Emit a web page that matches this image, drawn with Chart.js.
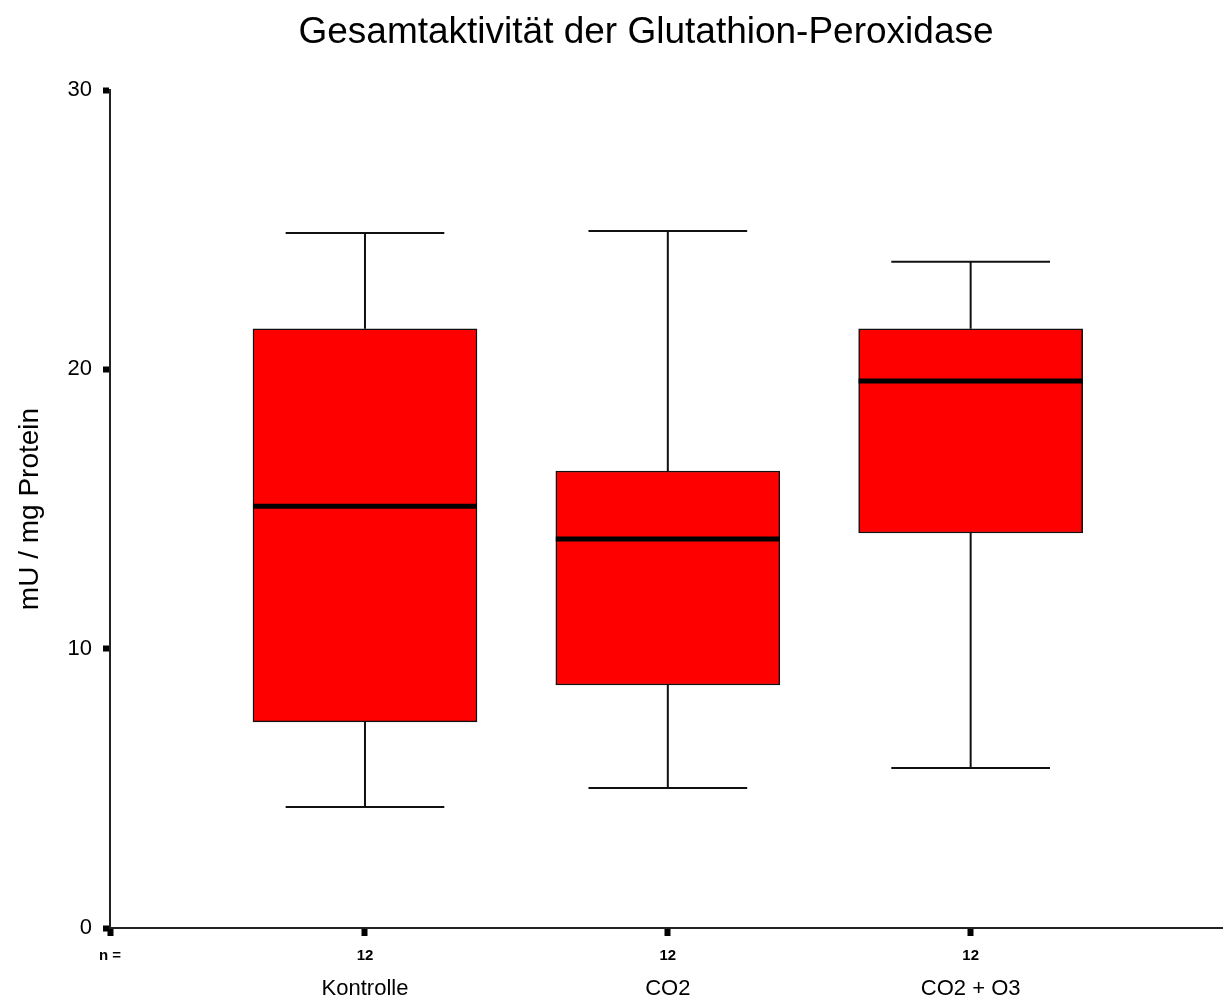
<!DOCTYPE html>
<html lang="de">
<head>
    <meta charset="UTF-8">
    <title>Gesamtaktivität der Glutathion-Peroxidase</title>
    <script src="https://cdn.jsdelivr.net/npm/chart.js"></script>
    <style>
        * { margin: 0; padding: 0; box-sizing: border-box; }
        body { background: #fff; width: 1223px; height: 1001px; overflow: hidden; }
        #wrap { width: 1223px; height: 1001px; }
    </style>
</head>
<body>
    <div id="wrap"><canvas id="boxChart"></canvas></div>

    <script>
        // Data
        const groups = ['Kontrolle', 'CO2', 'CO2 + O3'];
        const counts = [12, 12, 12];
        const positions = [1, 2, 3];
        const whiskerLow = [4.33, 5.01, 5.73];
        const q1 = [7.38, 8.70, 14.14];
        const medians = [15.10, 13.93, 19.58];
        const q3 = [21.45, 16.36, 21.45];
        const whiskerHigh = [24.88, 24.95, 23.85];
        const yTicks = [0, 10, 20, 30];

        const titleText = 'Gesamtaktivität der Glutathion-Peroxidase';
        const xMin = 0.158, xMax = 3.83;
        const capHalf = 0.262;
        const FONT = "'Liberation Sans', Arial, sans-serif";

        // whiskers, caps and median lines drawn through the chart scales
        const boxPlugin = {
            id: 'boxWhiskers',
            afterDatasetsDraw(chart) {
                const ctx = chart.ctx;
                const xs = chart.scales.x, ys = chart.scales.y;
                const meta = chart.getDatasetMeta(0);
                ctx.save();
                positions.forEach((p, i) => {
                    const cx = xs.getPixelForValue(p);
                    const capL = xs.getPixelForValue(p - capHalf);
                    const capR = xs.getPixelForValue(p + capHalf);
                    ctx.strokeStyle = '#111';
                    ctx.lineWidth = 2;
                    ctx.beginPath();
                    ctx.moveTo(cx, ys.getPixelForValue(q3[i]));
                    ctx.lineTo(cx, ys.getPixelForValue(whiskerHigh[i]));
                    ctx.moveTo(cx, ys.getPixelForValue(q1[i]));
                    ctx.lineTo(cx, ys.getPixelForValue(whiskerLow[i]));
                    ctx.moveTo(capL, ys.getPixelForValue(whiskerHigh[i]));
                    ctx.lineTo(capR, ys.getPixelForValue(whiskerHigh[i]));
                    ctx.moveTo(capL, ys.getPixelForValue(whiskerLow[i]));
                    ctx.lineTo(capR, ys.getPixelForValue(whiskerLow[i]));
                    ctx.stroke();

                    const hw = meta.data[i].width / 2;
                    const my = ys.getPixelForValue(medians[i]);
                    ctx.lineWidth = 5;
                    ctx.strokeStyle = '#000';
                    ctx.beginPath();
                    ctx.moveTo(cx - hw, my);
                    ctx.lineTo(cx + hw, my);
                    ctx.stroke();
                });
                ctx.restore();
            },
            afterDraw(chart) {
                const ctx = chart.ctx;
                ctx.save();
                ctx.fillStyle = '#000';
                ctx.font = '37px ' + FONT;
                ctx.textAlign = 'center';
                ctx.textBaseline = 'middle';
                ctx.fillText(titleText, 646, 33);
                ctx.restore();
            }
        };

        new Chart(document.getElementById('boxChart').getContext('2d'), {
            type: 'bar',
            data: {
                datasets: [{
                    data: positions.map((p, i) => ({ x: p, y: [q1[i], q3[i]] })),
                    backgroundColor: '#ff0000',
                    borderColor: '#111',
                    borderWidth: 1.5,
                    borderSkipped: false,
                    barThickness: 224,
                    xAxisID: 'x',
                    yAxisID: 'y'
                }]
            },
            options: {
                responsive: true,
                maintainAspectRatio: false,
                animation: false,
                layout: { padding: { top: 90, right: 1, left: 0, bottom: 0 } },
                plugins: {
                    legend: { display: false },
                    tooltip: { enabled: false },
                    title: { display: false }
                },
                scales: {
                    x: {
                        type: 'linear',
                        position: 'bottom',
                        weight: 0,
                        offset: false,
                        min: xMin,
                        max: xMax,
                        afterBuildTicks: axis => {
                            axis.ticks = [{ value: xMin }].concat(positions.map(v => ({ value: v })));
                        },
                        afterFit: axis => { axis.height = 36; },
                        ticks: {
                            autoSkip: false,
                            maxRotation: 0,
                            padding: 11,
                            color: '#000',
                            font: { family: FONT, size: 15, weight: 'bold' },
                            callback: (v, i) => i === 0 ? 'n =' : String(counts[i - 1])
                        },
                        grid: {
                            offset: false,
                            drawOnChartArea: false,
                            tickLength: 8,
                            tickWidth: 6,
                            tickColor: '#000'
                        },
                        border: { color: '#222', width: 2 }
                    },
                    xCat: {
                        type: 'linear',
                        position: 'bottom',
                        weight: 1,
                        offset: false,
                        min: xMin,
                        max: xMax,
                        afterBuildTicks: axis => {
                            axis.ticks = positions.map(v => ({ value: v }));
                        },
                        afterFit: axis => { axis.height = 37; },
                        ticks: {
                            autoSkip: false,
                            maxRotation: 0,
                            padding: 12,
                            color: '#000',
                            font: { family: FONT, size: 22 },
                            callback: (v, i) => groups[i]
                        },
                        grid: { display: false, drawTicks: false, offset: false },
                        border: { display: false }
                    },
                    y: {
                        min: 0,
                        max: 30,
                        afterBuildTicks: axis => {
                            axis.ticks = yTicks.map(v => ({ value: v }));
                        },
                        afterFit: axis => { axis.width = 110; },
                        ticks: {
                            padding: 11,
                            color: '#000',
                            font: { family: FONT, size: 22 }
                        },
                        grid: {
                            drawOnChartArea: false,
                            tickLength: 7,
                            tickWidth: 6,
                            tickColor: '#000'
                        },
                        border: { color: '#222', width: 2 },
                        title: {
                            display: true,
                            text: 'mU / mg Protein',
                            color: '#000',
                            font: { family: FONT, size: 28 },
                            padding: { top: 13, bottom: 0 }
                        }
                    }
                }
            },
            plugins: [boxPlugin]
        });
    </script>
</body>
</html>
